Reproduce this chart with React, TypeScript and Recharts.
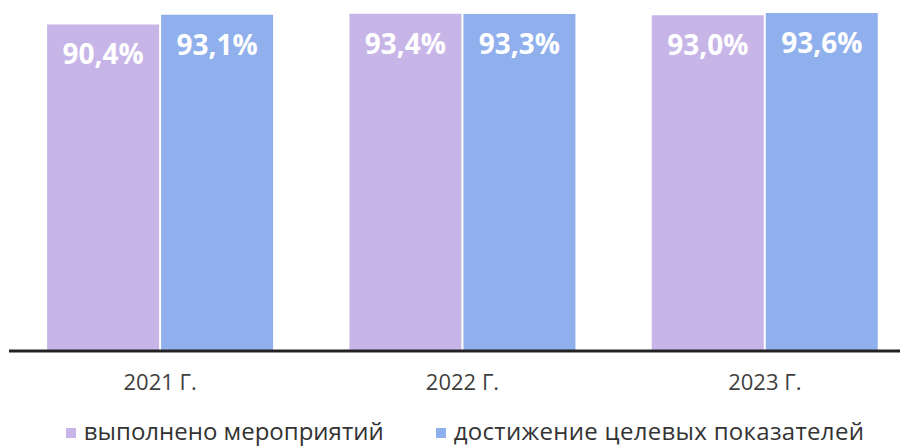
import React from "react";
import { BarChart, Bar, XAxis, YAxis, Legend, LabelList } from "recharts";

const years = ["2021 Г.", "2022 Г.", "2023 Г."];
const doneEvents = [90.4, 93.4, 93.0];
const targetReached = [93.1, 93.3, 93.6];
const seriesNames = ["выполнено мероприятий", "достижение целевых показателей"];

const PURPLE = "#c7b5e8";
const BLUE = "#8fb0ec";

const data = years.map((y, i) => ({
  year: y,
  done: doneEvents[i],
  target: targetReached[i],
}));

const fmt = (v: number) => v.toFixed(1).replace(".", ",") + "%";

const LegendContent = () => (
  <div
    style={{
      display: "flex",
      justifyContent: "center",
      alignItems: "center",
      gap: 52,
      paddingLeft: 30,
      fontFamily: "'Open Sans', sans-serif",
      fontSize: 24,
      lineHeight: "28px",
      color: "#333",
      whiteSpace: "nowrap",
    }}
  >
    {[PURPLE, BLUE].map((c, i) => (
      <div key={i} style={{ display: "flex", alignItems: "center", gap: 8 }}>
        <span style={{ width: 10, height: 10, background: c, display: "inline-block", marginTop: 4 }} />
        <span style={{ letterSpacing: i === 1 ? 0.3 : 0 }}>{seriesNames[i]}</span>
      </div>
    ))}
  </div>
);

export default function App() {
  return (
    <div style={{ position: "absolute", left: 0, top: 0, width: 900, height: 446, overflow: "hidden", background: "#fff" }}>
      <BarChart
        width={916}
        height={446}
        data={data}
        margin={{ top: 0, right: 0, left: 9, bottom: 55 }}
        barCategoryGap="12.6%"
        barGap={2}
      >
        <XAxis
          dataKey="year"
          height={40}
          axisLine={{ stroke: "#222", strokeWidth: 3 }}
          tickLine={false}
          tickSize={0}
          tickMargin={23}
          tick={{ fill: "#3f3f3f", fontSize: 22, fontFamily: "'Open Sans', sans-serif" }}
        />
        <YAxis hide domain={[0, 97.2]} allowDataOverflow />
        <Legend
          layout="horizontal"
          verticalAlign="middle"
          align="center"
          content={<LegendContent />}
          wrapperStyle={{ left: 0, top: 417, width: 900 }}
        />
        <Bar dataKey="done" name={seriesNames[0]} fill={PURPLE} isAnimationActive={false}>
          <LabelList
            dataKey="done"
            position="insideTop"
            offset={20}
            formatter={(v: any) => fmt(Number(v))}
            style={{ fill: "#fff", fontSize: 28, fontWeight: 700, fontFamily: "'Open Sans', sans-serif" }}
          />
        </Bar>
        <Bar dataKey="target" name={seriesNames[1]} fill={BLUE} isAnimationActive={false}>
          <LabelList
            dataKey="target"
            position="insideTop"
            offset={20}
            formatter={(v: any) => fmt(Number(v))}
            style={{ fill: "#fff", fontSize: 28, fontWeight: 700, fontFamily: "'Open Sans', sans-serif" }}
          />
        </Bar>
      </BarChart>
    </div>
  );
}
